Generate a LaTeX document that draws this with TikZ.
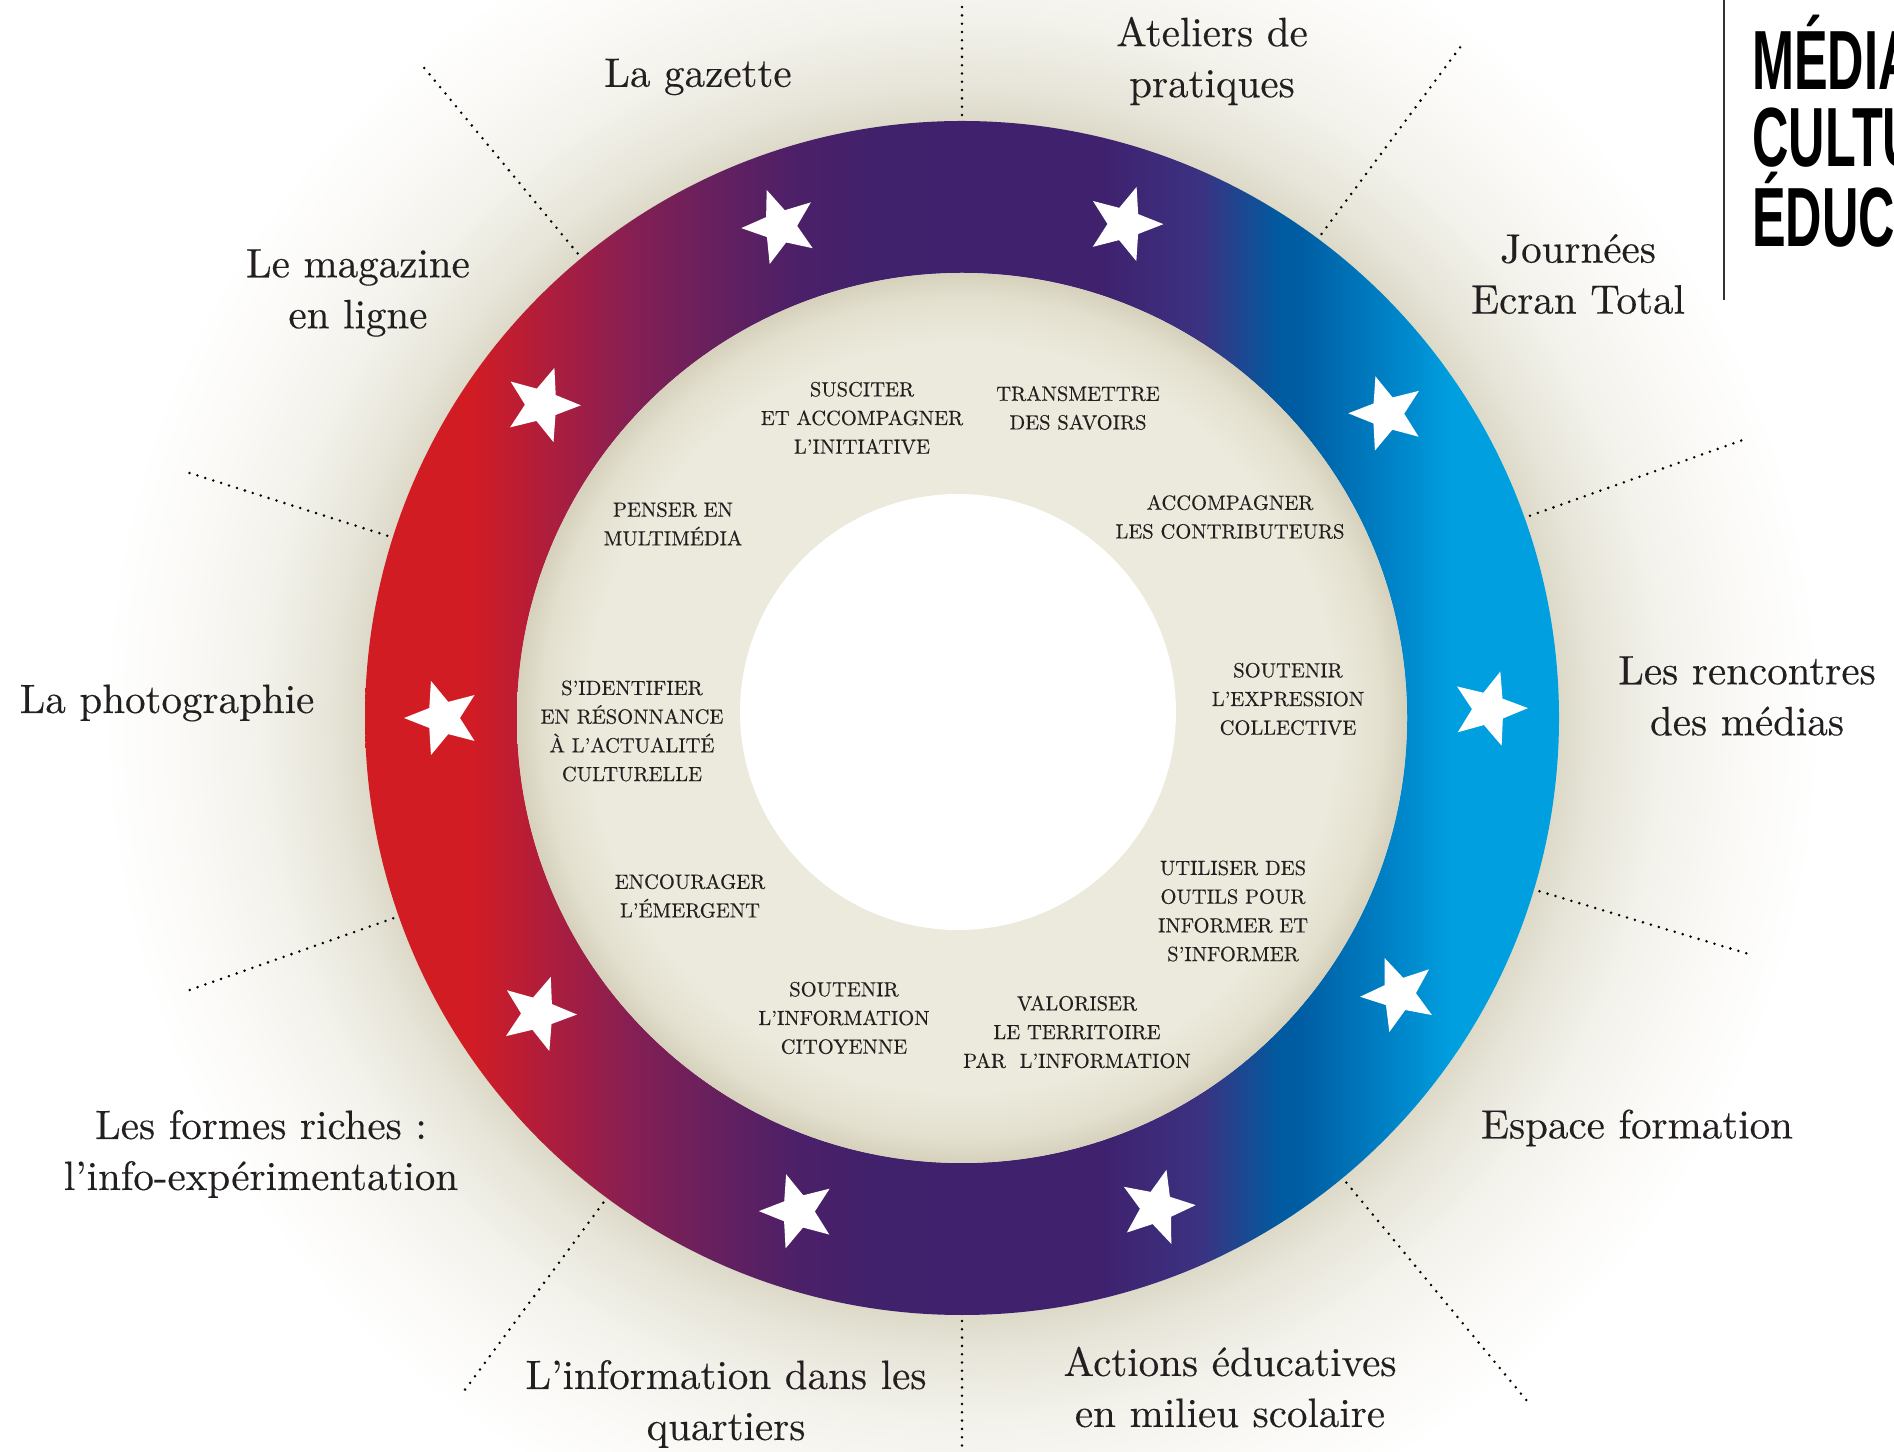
\documentclass[tikz,border=0pt]{standalone}
\usepackage{fontspec}
\usetikzlibrary{shapes.geometric}
\newfontfamily\titlefont{Liberation Sans}
\newfontfamily\lblfont{lmroman10-regular.otf}[FakeBold=0.3]
\definecolor{txt}{HTML}{231F20}
\definecolor{cR}{HTML}{D21C24}
\definecolor{cA}{HTML}{A81E40}
\definecolor{cB}{HTML}{821F55}
\definecolor{cD}{HTML}{64205F}
\definecolor{cE}{HTML}{4B2068}
\definecolor{cF}{HTML}{40216C}
\definecolor{cG}{HTML}{3F216E}
\definecolor{cH}{HTML}{3B3281}
\definecolor{cI}{HTML}{005BA0}
\definecolor{cJ}{HTML}{005DA3}
\definecolor{cK}{HTML}{0087CB}
\definecolor{cC}{HTML}{009FDF}
\definecolor{beige}{HTML}{ECEADC}
\definecolor{beigeM}{HTML}{E3E0CF}
\definecolor{beigeD}{HTML}{D5D1BC}
\definecolor{glowA}{HTML}{DCD9C8}
\definecolor{glowB}{HTML}{E7E5D9}
\definecolor{glowC}{HTML}{F2F1EA}
\definecolor{glowD}{HTML}{FAF9F6}
\pgfdeclarehorizontalshading{ringgrad}{100bp}{color(0bp)=(cR); color(29.4bp)=(cR); color(33.2bp)=(cA); color(36.5bp)=(cB); color(39.9bp)=(cD); color(43.2bp)=(cE); color(46.6bp)=(cF); color(55.8bp)=(cG); color(60bp)=(cH); color(63.3bp)=(cI); color(64.2bp)=(cJ); color(68.4bp)=(cK); color(70.5bp)=(cC); color(100bp)=(cC)}
% path radius 860 -> 25bp ; ring edge 597 -> 17.35bp
\pgfdeclareradialshading{glow}{\pgfpointorigin}{color(0bp)=(glowA); color(17.3bp)=(glowA); color(18.4bp)=(glowB); color(20.3bp)=(glowC); color(22.6bp)=(glowD); color(25bp)=(white); color(50bp)=(white)}
\pgfdeclareradialshading{inshadow}{\pgfpointorigin}{color(0bp)=(beige); color(21bp)=(beige); color(23.6bp)=(beigeM); color(25bp)=(beigeD); color(50bp)=(beigeD)}
\tikzset{
  outerlbl/.style={font={\lblfont\fontsize{41}{51}\selectfont}, text=txt, align=center, inner sep=0pt},
  innerlbl/.style={font={\lblfont\fontsize{20.5}{28.7}\selectfont}, text=txt, align=center, inner sep=0pt},
  dots/.style={draw=black, line width=2.8pt, line cap=round, dash pattern=on 0pt off 8.3pt},
  starnode/.style={star, star points=5, star point ratio=2.3, minimum size=78pt, inner sep=0pt, fill=white, draw=none},
  titlelbl/.style={anchor=base west, inner sep=0pt, text=black, font={\titlefont\bfseries\fontsize{84}{84}\selectfont}}
}
\begin{document}
\begin{tikzpicture}[x=1pt,y=1pt]
\useasboundingbox (0,0) rectangle (1894,1451);
\fill[white] (0,0) rectangle (1894,1451);
\clip (0,0) rectangle (1894,1451);
\coordinate (C) at (962,733);
\coordinate (W) at (958,739);
% glow
\shade[shading=glow] (C) circle (860);
% dotted radial lines
\foreach \a/\r [count=\i] in {90/800,53.4/843,19.6/835,-16.7/822,-50.4/886,-90/800,-126.5/841,-160.6/822,162.4/812,129.6/847}{
  \coordinate (din\i) at ([shift={(\a:603)}]C);
  \coordinate (dout\i) at ([shift={(\a:\r)}]C);
  \draw[dots] (din\i) -- (dout\i);
}
% ring
\shade[shading=ringgrad] (C) circle (597);
\fill[beige] (C) circle (445);
\shade[shading=inshadow] (C) circle (445);
\fill[white] (W) circle (218);
% stars
\foreach \a/\r [count=\i] in {110.3/524,71.8/520,35.6/523,1/527,-32.3/517,-68.3/527,-108.4/520,-145.1/517,180/519,143.3/524}{
  \node[starnode, rotate=\a-90] (s\i) at ([shift={(\a:\r)}]C) {};
}
% outer labels
\node[outerlbl] (lgaz) at (698,1374) {La gazette};
\node[outerlbl] (latel) at (1212,1390) {Ateliers de\\pratiques};
\node[outerlbl] (ljour) at (1578,1177) {Journées\\Ecran Total};
\node[outerlbl] (lrenc) at (1747,755) {Les rencontres\\des médias};
\node[outerlbl] (lesp) at (1637,323) {Espace formation};
\node[outerlbl] (lact) at (1230,64) {Actions éducatives\\en milieu scolaire};
\node[outerlbl] (linfo) at (726,47) {L’information dans les\\quartiers};
\node[outerlbl] (lform) at (261,297) {Les formes riches :\\l’info-expérimentation};
\node[outerlbl] (lphoto) at (167,748) {La photographie};
\node[outerlbl] (lmag) at (358,1158) {Le magazine\\en ligne};
% inner labels
\node[innerlbl] (i1) at (862,1033) {SUSCITER\\ET ACCOMPAGNER\\L’INITIATIVE};
\node[innerlbl] (i2) at (1078,1043) {TRANSMETTRE\\DES SAVOIRS};
\node[innerlbl] (i3) at (1230,934) {ACCOMPAGNER\\LES CONTRIBUTEURS};
\node[innerlbl] (i4) at (673,927) {PENSER EN\\MULTIMÉDIA};
\node[innerlbl] (i5) at (632,720) {S’IDENTIFIER\\EN RÉSONNANCE\\À L’ACTUALITÉ\\CULTURELLE};
\node[innerlbl] (i6) at (1288,752) {SOUTENIR\\L’EXPRESSION\\COLLECTIVE};
\node[innerlbl] (i7) at (1233,540) {UTILISER DES\\OUTILS POUR\\INFORMER ET\\S’INFORMER};
\node[innerlbl] (i8) at (690,555) {ENCOURAGER\\L’ÉMERGENT};
\node[innerlbl] (i9) at (844,433) {SOUTENIR\\L’INFORMATION\\CITOYENNE};
\node[innerlbl] (i10) at (1077,419) {VALORISER\\LE TERRITOIRE\\PAR~~L’INFORMATION};
% title
\coordinate (sepT) at (1724,1451);
\coordinate (sepB) at (1724,1151);
\draw[line width=1.8pt, draw=black!80] (sepT) -- (sepB);
\node[titlelbl] (t1) at (1752,1361) {\scalebox{0.6}[1]{MÉDIA}};
\node[titlelbl] (t2) at (1752,1284) {\scalebox{0.6}[1]{CULTU}};
\node[titlelbl] (t3) at (1752,1204) {\scalebox{0.6}[1]{ÉDUCA}};
\end{tikzpicture}
\end{document}
